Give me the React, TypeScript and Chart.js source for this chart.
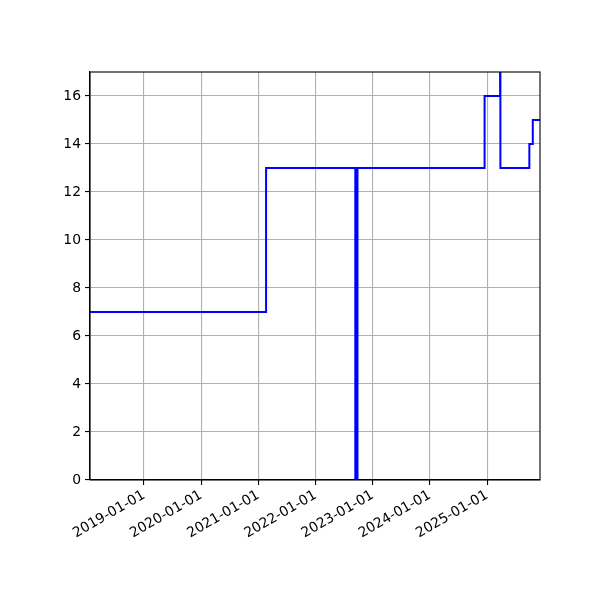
import { useEffect, useRef } from "react";
import { Chart, registerables } from "chart.js";

Chart.register(...registerables);

// dates where the value changes, and the value from that date on
const changeDates = [
  "2018-01-21",
  "2021-02-19",
  "2022-09-12",
  "2022-09-14",
  "2022-09-16",
  "2022-09-18",
  "2022-09-20",
  "2022-09-22",
  "2022-09-24",
  "2022-09-26",
  "2024-12-16",
  "2025-03-25",
  "2025-03-27",
  "2025-09-28",
  "2025-10-20",
  "2025-12-05",
];
const counts = [7, 13, 0, 13, 0, 13, 0, 13, 0, 13, 16, 30, 13, 14, 15, 15];

const tickYears = [2019, 2020, 2021, 2022, 2023, 2024, 2025];
const xStart = "2018-01-21";
const xEnd = "2025-12-05";

const toTime = (d: string) => new Date(d + "T00:00:00Z").getTime();

const frame = {
  id: "frame",
  afterDraw(chart: Chart) {
    const { ctx, chartArea } = chart;
    ctx.save();
    ctx.strokeStyle = "#000";
    ctx.lineWidth = 1.1;
    ctx.strokeRect(chartArea.left, chartArea.top, chartArea.right - chartArea.left, chartArea.bottom - chartArea.top);
    ctx.restore();
  },
};

export default function App() {
  const canvasRef = useRef<HTMLCanvasElement | null>(null);

  useEffect(() => {
    if (!canvasRef.current) return;

    const font = { family: "DejaVu Sans", size: 13.9 };

    const chart = new Chart(canvasRef.current, {
      type: "line",
      data: {
        datasets: [
          {
            data: changeDates.map((d, i) => ({ x: toTime(d), y: counts[i] })),
            borderColor: "#0000ff",
            borderWidth: 2,
            pointRadius: 0,
            stepped: "before",
            fill: false,
          },
        ],
      },
      options: {
        animation: false,
        responsive: false,
        layout: { padding: { top: 72, right: 60, left: 0, bottom: 0 } },
        plugins: { legend: { display: false }, tooltip: { enabled: false } },
        scales: {
          x: {
            type: "linear",
            min: toTime(xStart),
            max: toTime(xEnd),
            afterBuildTicks: (scale) => {
              scale.ticks = tickYears.map((y) => ({ value: Date.UTC(y, 0, 1) }));
            },
            afterFit: (scale) => {
              scale.height = 120;
            },
            ticks: {
              color: "#000",
              font,
              minRotation: 30,
              maxRotation: 30,
              padding: 2,
              autoSkip: false,
              callback: (v) => {
                const d = new Date(Number(v));
                return `${d.getUTCFullYear()}-01-01`;
              },
            },
            grid: { color: "#b0b0b0", lineWidth: 1.1, tickColor: "#000", tickLength: 5 },
            border: { color: "#000", width: 1.1 },
          },
          y: {
            min: 0,
            max: 17,
            afterBuildTicks: (scale) => {
              scale.ticks = [0, 2, 4, 6, 8, 10, 12, 14, 16].map((v) => ({ value: v }));
            },
            afterFit: (scale) => {
              scale.width = 90;
            },
            ticks: { color: "#000", font, padding: 4 },
            grid: { color: "#b0b0b0", lineWidth: 1.1, tickColor: "#000", tickLength: 5 },
            border: { color: "#000", width: 1.1 },
          },
        },
      },
      plugins: [frame],
    });

    return () => chart.destroy();
  }, []);

  return (
    <div style={{ position: "absolute", left: 0, top: 0, width: 600, height: 600, background: "#fff" }}>
      <canvas ref={canvasRef} width={600} height={600} />
    </div>
  );
}
